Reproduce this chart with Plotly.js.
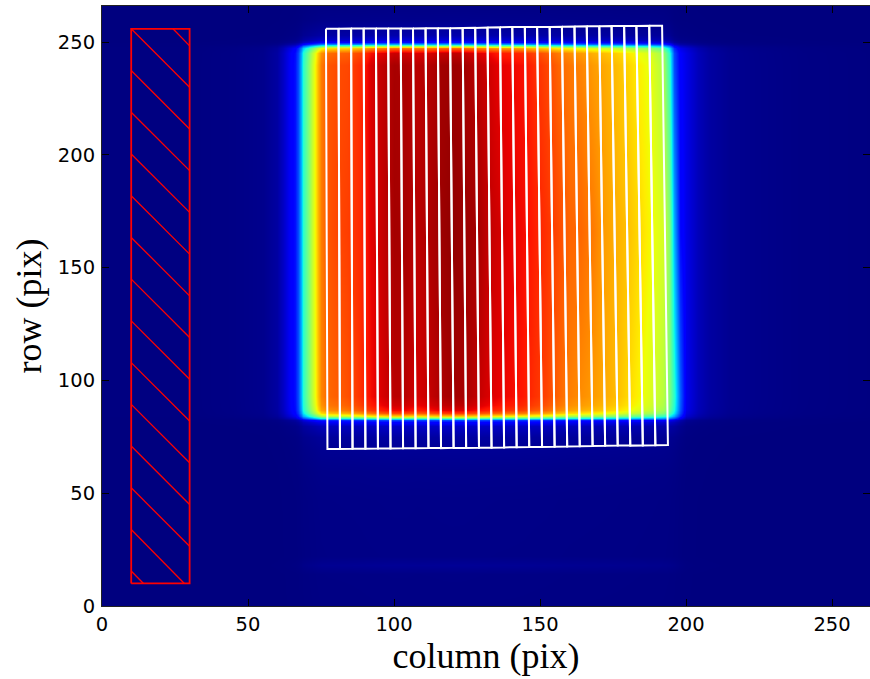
<!DOCTYPE html>
<html>
<head>
<meta charset="utf-8">
<script src="https://cdn.plot.ly/plotly-3.0.1.min.js"></script>
<style>html,body{margin:0;padding:0;background:#fff}#chart{width:870px;height:679px}</style>
</head>
<body>
<div id="chart"></div>
<script>
// column nodes (pix) of the flux image
const columns = [0,30,45,55,60,62,64,66,67,68,69,70.5,72,73,74,75,77,80,84,88,92,96,100,104,108,112,116,120,124,128,132,136,140,144,148,152,156,160,164,168,172,176,180,184,188,192,194,196,198,200,204,208,215,225,240,263];
// flux profiles across the columns, read at three heights of the image
const profileTop = [.002,.002,.006,.012,.03,.06,.10,.14,.20,.30,.40,.50,.59,.65,.72,.78,.82,.83,.835,.86,.925,.945,.965,.96,.95,.955,.97,.975,.97,.95,.935,.91,.905,.895,.865,.84,.805,.785,.77,.745,.73,.71,.685,.655,.63,.56,.42,.20,.115,.09,.05,.03,.015,.01,.005,.002];
const profileMid = [.002,.002,.006,.012,.03,.06,.10,.14,.20,.30,.40,.50,.59,.65,.72,.78,.82,.835,.845,.865,.915,.94,.968,.965,.95,.96,.975,.985,.975,.97,.945,.93,.91,.90,.88,.86,.835,.805,.80,.78,.745,.725,.705,.68,.645,.61,.52,.30,.13,.09,.05,.03,.015,.01,.005,.002];
const profileBot = [.002,.002,.006,.012,.03,.06,.10,.14,.20,.30,.40,.50,.58,.64,.71,.77,.80,.81,.825,.855,.90,.925,.95,.95,.925,.94,.96,.97,.965,.945,.925,.91,.90,.885,.86,.84,.805,.775,.76,.745,.73,.71,.68,.65,.615,.575,.51,.40,.22,.095,.05,.03,.015,.01,.005,.002];
// row nodes (pix), how strong the flux is at each one, and which profile applies
const rows = [0,14,18,22,47,60,69,75,80,81.7,82.5,83.4,84.3,85.6,87,89,93,166,240,245,247.5,248.4,249.3,250,251,253,256.3,260,266];
const rowFlux = [.005,.006,.02,.007,.008,.012,.02,.03,.065,.13,.2,.5,.72,.88,.95,.98,1,1,1,.97,.82,.58,.3,.14,.08,.04,.025,.012,.006];
const rowProfile = ['b','b','b','b','b','b','b','b','b','b','b','b','b','b','b','b','b','m','t','t','t','t','t','t','t','t','t','t','t'];

// slit polygons: 28 dividing lines, each with a top and a bottom end
const slitTopX = [76.7,81,85.3,89.6,93.8,98,102.3,106.5,110.8,115,119.2,123.5,127.8,132,136.3,140.5,144.8,149,153.3,157.5,161.8,166,170.3,174.5,178.8,183,187.4,191.8];
const slitBotX = [77.2,81.5,85.8,90.2,94.5,98.8,103.1,107.4,111.8,116.1,120.4,124.7,129.1,133.4,137.7,142,146.3,150.7,155,159.3,163.6,168,172.3,176.6,180.9,185.2,189.5,193.8];
const slitTopY = [255.9,255.9,256,256,256,256,256,256,256.1,256.1,256.1,256.2,256.3,256.5,256.6,256.7,256.7,256.7,256.7,256.8,256.9,257,257,257.1,257.1,257.1,257.2,257.2];
const slitBotY = [69.6,69.6,69.7,69.7,69.8,69.8,69.9,69.9,70,70,70.1,70.1,70.2,70.2,70.3,70.4,70.5,70.5,70.6,70.7,70.8,70.9,71,71.1,71.1,71.2,71.3,71.4];

// background aperture and its hatching
const boxX = [10,30,30,10,10];
const boxY = [10,10,255.9,255.9,10];
const hatchX1 = [24.3,10,10,10,10,10,10,10,10,10,10,10,10,10,10];
const hatchY1 = [255.9,255.9,237.4,218.9,200.4,181.9,163.4,144.9,126.4,107.9,89.4,70.9,52.4,33.9,15.5];
const hatchX2 = [30,30,30,30,30,30,30,30,30,30,30,30,30,28.2,14.2];
const hatchY2 = [248.3,230,211.5,193,174.5,156,137.5,119,100.5,82,63.5,45,26.5,10,10];

const xTicks = [0,50,100,150,200,250];
const yTicks = [0,50,100,150,200,250];
const xTitle = 'column (pix)';
const yTitle = 'row (pix)';

const profiles = {t: profileTop, m: profileMid, b: profileBot};
const z = rows.map((_, r) => profiles[rowProfile[r]].map(v => v * rowFlux[r]));

const jet = [[0,'rgb(0,0,127)'],[.11,'rgb(0,0,255)'],[.125,'rgb(0,0,255)'],[.34,'rgb(0,219,255)'],[.35,'rgb(0,229,247)'],[.375,'rgb(20,255,226)'],[.64,'rgb(238,255,8)'],[.65,'rgb(247,246,0)'],[.66,'rgb(255,236,0)'],[.89,'rgb(255,19,0)'],[.91,'rgb(232,0,0)'],[1,'rgb(127,0,0)']];

const sx = [], sy = [];
for (let i = 0; i + 1 < slitTopX.length; i++) {
  sx.push(slitTopX[i], slitTopX[i+1], slitBotX[i+1], slitBotX[i], slitTopX[i], null);
  sy.push(slitTopY[i], slitTopY[i+1], slitBotY[i+1], slitBotY[i], slitTopY[i], null);
}
const hx = [], hy = [];
hatchX1.forEach((_, i) => { hx.push(hatchX1[i], hatchX2[i], null); hy.push(hatchY1[i], hatchY2[i], null); });

const axisCommon = {
  showgrid: false, zeroline: false, showline: true, linecolor: '#222', linewidth: 1, mirror: 'ticks',
  ticks: 'inside', ticklen: 7, tickwidth: 1, tickcolor: '#000',
  tickfont: {family: 'DejaVu Sans', size: 19.5, color: '#000'}
};
const data = [
  {type: 'heatmap', x: columns, y: rows, z: z, zmin: 0, zmax: 1, colorscale: jet, showscale: false, zsmooth: 'best', hoverinfo: 'skip'},
  {type: 'scatter', mode: 'lines', x: hx, y: hy, line: {color: '#f00', width: 1.3}, hoverinfo: 'skip', showlegend: false},
  {type: 'scatter', mode: 'lines', x: boxX, y: boxY, line: {color: '#f00', width: 1.8}, hoverinfo: 'skip', showlegend: false},
  {type: 'scatter', mode: 'lines', x: sx, y: sy, line: {color: '#fff', width: 2}, hoverinfo: 'skip', showlegend: false}
];
const layout = {
  width: 870, height: 679, showlegend: false,
  margin: {l: 102, r: 0, t: 6, b: 73},
  paper_bgcolor: '#fff', plot_bgcolor: '#000080',
  xaxis: Object.assign({}, axisCommon, {range: [0,263], tickvals: xTicks, ticktext: xTicks.map(String), ticklabelstandoff: 1,
    title: {text: xTitle, font: {family: 'Liberation Serif', size: 36, color: '#000'}, standoff: 5}}),
  yaxis: Object.assign({}, axisCommon, {range: [0,266], tickvals: yTicks, ticktext: yTicks.map(String), ticklabelstandoff: 2,
    title: {text: yTitle, font: {family: 'Liberation Serif', size: 36, color: '#000'}, standoff: 5}})
};
Plotly.newPlot('chart', data, layout, {staticPlot: true, displayModeBar: false});
</script>
</body>
</html>
